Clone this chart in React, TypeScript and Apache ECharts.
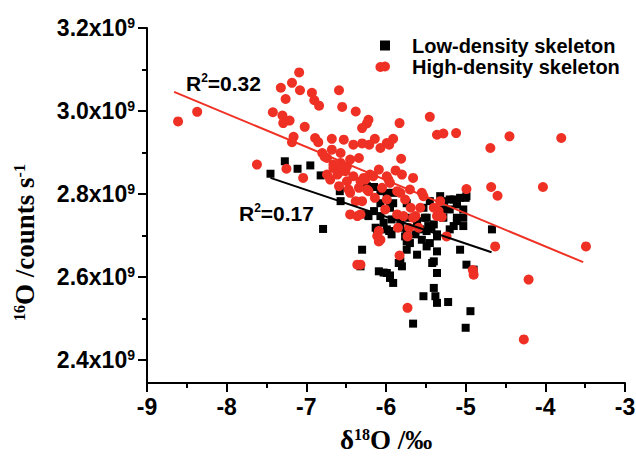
import React, { useEffect, useRef } from "react";
import * as echarts from "echarts";

// δ18O (‰) and 16O counts (units of 1e9 counts/s)
const lowX = [-7.45, -7.27, -7.11, -6.95, -6.82, -6.58, -6.15, -5.99, -6.57, -6.79, -6.22, -6.11, -6.03, -5.99, -5.93, -5.82, -5.74, -5.57, -5.49, -5.43, -5.32, -5.2, -5.11, -4.99, -5.11, -5.15, -5.36, -5.49, -5.74, -5.61, -5.36, -5.07, -6.3, -6.32, -5.82, -5.8, -6.09, -6.03, -5.95, -5.91, -5.4, -5.36, -4.99, -4.9, -5.4, -5.38, -5.36, -5.53, -5.22, -4.94, -5.66, -5.0, -4.67, -6.24, -6.07, -5.91, -5.15, -5.07, -6.07, -5.95, -5.91, -5.74, -5.53, -5.45, -5.28, -5.2, -5.11, -5.03, -6.24, -6.15, -6.07, -5.93, -5.82, -5.72, -5.61, -5.51, -5.47, -5.4, -5.28, -5.11, -5.03, -5.2, -5.03, -6.13, -5.96, -5.74, -5.63, -5.49, -5.36, -5.55, -5.45, -5.7, -5.99, -5.95, -5.27, -5.0, -5.42, -5.84, -5.76];
const lowY = [2.849, 2.879, 2.861, 2.869, 2.845, 2.807, 2.817, 2.803, 2.783, 2.716, 2.747, 2.715, 2.731, 2.715, 2.703, 2.719, 2.686, 2.715, 2.743, 2.719, 2.795, 2.787, 2.779, 2.795, 2.743, 2.723, 2.698, 2.674, 2.666, 2.654, 2.662, 2.666, 2.666, 2.626, 2.638, 2.626, 2.614, 2.611, 2.604, 2.586, 2.638, 2.61, 2.63, 2.618, 2.574, 2.554, 2.538, 2.554, 2.54, 2.518, 2.488, 2.478, 2.715, 2.819, 2.807, 2.803, 2.787, 2.791, 2.778, 2.767, 2.778, 2.778, 2.767, 2.783, 2.763, 2.763, 2.775, 2.763, 2.751, 2.759, 2.747, 2.739, 2.735, 2.743, 2.735, 2.743, 2.723, 2.727, 2.743, 2.735, 2.743, 2.715, 2.723, 2.719, 2.711, 2.711, 2.703, 2.711, 2.703, 2.69, 2.682, 2.682, 2.61, 2.598, 2.783, 2.791, 2.634, 2.634, 2.698];

const highX = [-8.61, -8.37, -7.62, -7.25, -7.04, -6.07, -7.09, -7.32, -7.18, -7.08, -7.26, -6.93, -6.9, -6.84, -6.59, -6.55, -6.38, -7.42, -7.3, -7.21, -7.29, -7.02, -7.16, -7.18, -6.89, -6.85, -6.68, -6.53, -6.41, -6.3, -6.22, -6.24, -6.3, -6.14, -6.21, -6.07, -5.99, -6.8, -6.77, -6.68, -6.57, -6.45, -6.34, -6.57, -6.66, -6.74, -6.61, -6.51, -6.49, -6.41, -6.28, -6.2, -6.09, -5.99, -6.47, -6.34, -6.05, -5.45, -5.36, -5.28, -5.12, -5.83, -5.91, -5.96, -5.81, -5.88, -5.8, -5.66, -4.99, -6.16, -5.97, -6.26, -4.45, -3.8, -4.69, -4.68, -4.6, -4.03, -3.49, -4.63, -4.91, -4.9, -4.21, -4.27, -5.73, -5.83, -5.7, -5.76, -5.53, -5.32, -5.99, -5.57, -5.69, -5.4, -5.36, -5.3, -5.63, -5.86, -5.78, -5.85, -5.71, -5.73, -5.24, -6.07, -6.24, -6.14, -6.3, -5.82, -6.01, -5.66, -6.32, -6.09, -6.32, -5.59, -6.7, -6.59, -6.45, -6.38, -6.32, -6.22, -5.95, -5.86, -6.45, -6.36, -6.11, -6.09, -5.34, -5.55, -6.36, -6.74, -6.66, -6.57, -6.49];
const highY = [2.975, 2.998, 2.871, 2.861, 2.839, 3.106, 3.093, 3.056, 3.068, 3.05, 3.029, 3.044, 3.026, 3.013, 3.05, 3.01, 2.999, 2.997, 2.989, 2.977, 2.971, 2.962, 2.938, 2.925, 2.935, 2.925, 2.933, 2.931, 2.919, 2.922, 2.979, 2.97, 2.959, 2.933, 2.919, 2.911, 2.923, 2.899, 2.89, 2.907, 2.899, 2.883, 2.887, 2.875, 2.863, 2.847, 2.847, 2.855, 2.831, 2.843, 2.839, 2.847, 2.859, 2.843, 2.811, 2.815, 2.815, 2.986, 2.943, 2.946, 2.947, 2.971, 2.933, 2.919, 2.885, 2.857, 2.847, 2.839, 2.812, 2.843, 2.835, 2.835, 2.939, 2.935, 2.911, 2.817, 2.796, 2.817, 2.674, 2.674, 2.617, 2.606, 2.594, 2.45, 2.526, 2.652, 2.811, 2.787, 2.795, 2.783, 2.787, 2.767, 2.767, 2.767, 2.747, 2.745, 2.747, 2.751, 2.747, 2.719, 2.719, 2.698, 2.698, 2.69, 2.811, 2.791, 2.783, 2.803, 2.763, 2.743, 2.751, 2.711, 2.63, 2.719, 2.835, 2.819, 2.803, 2.783, 2.831, 2.807, 2.827, 2.807, 2.751, 2.747, 2.699, 2.686, 2.759, 2.803, 2.63, 2.887, 2.871, 2.855, 2.867];

// linear fit endpoints
const lowFitX = [-7.45, -4.675];
const lowFitY = [2.839, 2.66];
const highFitX = [-8.66, -3.525];
const highFitY = [3.046, 2.636];

const xTicks = [-9, -8, -7, -6, -5, -4, -3];
const yMajor = [2.4, 2.6, 2.8, 3.0, 3.2];
const yMinor = [2.5, 2.7, 2.9, 3.1];

const RED = "#ee3124";
const SANS = "Liberation Sans, Arial, sans-serif";
const SERIF = "Liberation Serif, Times New Roman, serif";

const zip = (xs: number[], ys: number[]) => xs.map((x, i) => [x, ys[i]]);

export default function App() {
  const ref = useRef<HTMLDivElement>(null);
  useEffect(() => {
    if (!ref.current) return;
    const chart = echarts.init(ref.current, undefined, { renderer: "svg" });
    const supRich = {
      b: { fontFamily: SANS, fontWeight: "bold", fontSize: 23, color: "#000" },
      s: { fontFamily: SANS, fontWeight: "bold", fontSize: 14, color: "#000", verticalAlign: "bottom", padding: [0, 0, 11, 0] },
    };
    const titleRich = {
      a: { fontFamily: SERIF, fontWeight: "bold", fontSize: 27, lineHeight: 28, color: "#000" },
      s: { fontFamily: SERIF, fontWeight: "bold", fontSize: 16, lineHeight: 16, color: "#000", verticalAlign: "bottom", padding: [0, 0, 12, 0] },
    };
    chart.setOption({
      animation: false,
      backgroundColor: "#fff",
      grid: { left: 147, right: 11, top: 28, bottom: 73, containLabel: false, outerBoundsMode: "none" },
      legend: {
        orient: "vertical",
        left: 375,
        top: 30,
        itemGap: 0,
        itemWidth: 10,
        itemHeight: 10,
        data: [
          { name: "Low-density skeleton", icon: "rect" },
          { name: "High-density skeleton", icon: "circle" },
        ],
        textStyle: { fontFamily: SANS, fontWeight: "bold", fontSize: 20, color: "#000", padding: [0, 0, 0, 17], lineHeight: 21 },
      },
      xAxis: {
        type: "value",
        min: xTicks[0],
        max: xTicks[xTicks.length - 1],
        interval: 1,
        axisLine: { lineStyle: { color: "#000", width: 2 } },
        axisTick: { length: 9, lineStyle: { color: "#000", width: 2 } },
        minorTick: { show: true, splitNumber: 2, length: 5, lineStyle: { color: "#000", width: 2 } },
        splitLine: { show: false },
        axisLabel: { margin: 12, fontFamily: SANS, fontWeight: "bold", fontSize: 23, color: "#000" },
        name: "{a|δ}{s|18}{a|O /‰}",
        nameLocation: "middle",
        nameGap: 43,
        nameTextStyle: { rich: titleRich },
      },
      yAxis: [
        {
          type: "value",
          min: 2.345,
          max: 3.2,
          axisLine: { lineStyle: { color: "#000", width: 2 } },
          axisTick: { length: 9, customValues: yMajor, lineStyle: { color: "#000", width: 2 } },
          splitLine: { show: false },
          axisLabel: {
            margin: 12,
            customValues: yMajor,
            formatter: (v: number) => `{b|${v.toFixed(1)}x10}{s|9}`,
            rich: supRich,
          },
          name: "{s|16}{a|O /counts s}{s|-1}",
          nameLocation: "middle",
          nameGap: 108,
          nameTextStyle: {
            padding: [0, 74, 0, 0],
            rich: titleRich,
          },
        },
        {
          type: "value",
          min: 2.345,
          max: 3.2,
          position: "left",
          axisLine: { show: false },
          axisTick: { length: 5, customValues: yMinor, lineStyle: { color: "#000", width: 2 } },
          axisLabel: { show: false },
          splitLine: { show: false },
        },
      ],
      series: [
        {
          name: "Low-density skeleton",
          type: "scatter",
          symbol: "rect",
          symbolSize: 8,
          itemStyle: { color: "#000", opacity: 1 },
          data: zip(lowX, lowY),
          z: 2,
        },
        {
          name: "High-density skeleton",
          type: "scatter",
          symbol: "circle",
          symbolSize: 10,
          itemStyle: { color: RED, opacity: 1 },
          data: zip(highX, highY),
          z: 3,
        },
        {
          name: "lowFit",
          type: "line",
          data: zip(lowFitX, lowFitY),
          showSymbol: false,
          symbol: "none",
          lineStyle: { color: "#000", width: 2 },
          z: 4,
        },
        {
          name: "highFit",
          type: "line",
          data: zip(highFitX, highFitY),
          showSymbol: false,
          symbol: "none",
          lineStyle: { color: RED, width: 2 },
          z: 4,
        },
      ],
      graphic: [
        {
          type: "text",
          x: 186,
          y: 72,
          style: {
            text: "{a|R}{s|2}{a|=0.32}",
            rich: {
              a: { fontFamily: SANS, fontWeight: "bold", fontSize: 21, fill: "#000" },
              s: { fontFamily: SANS, fontWeight: "bold", fontSize: 12, fill: "#000", verticalAlign: "bottom", padding: [0, 0, 10, 0] },
            },
          },
        },
        {
          type: "text",
          x: 239,
          y: 202,
          style: {
            text: "{a|R}{s|2}{a|=0.17}",
            rich: {
              a: { fontFamily: SANS, fontWeight: "bold", fontSize: 21, fill: "#000" },
              s: { fontFamily: SANS, fontWeight: "bold", fontSize: 12, fill: "#000", verticalAlign: "bottom", padding: [0, 0, 10, 0] },
            },
          },
        },
      ],
    });
    return () => chart.dispose();
  }, []);
  return <div ref={ref} style={{ position: "fixed", left: 0, top: 0, width: 636, height: 456 }} />;
}
